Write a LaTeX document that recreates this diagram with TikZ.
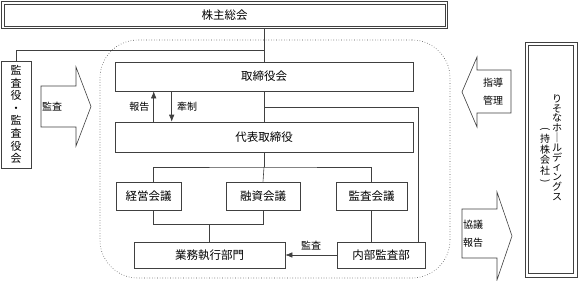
\documentclass[tikz,border=0pt]{standalone}
\usepackage{fontspec}
\setmainfont{Noto Sans CJK JP}
\usetikzlibrary{arrows.meta}
\begin{document}
\begin{tikzpicture}[x=1pt, y=-1pt,
    box/.style={rectangle, draw=black!75, line width=0.6pt, inner sep=0pt, font=\fontsize{11.5}{13}\selectfont},
    region/.style={rectangle, draw=black!70, dotted, line width=0.6pt, rounded corners=38pt},
    vtext/.style={align=center, inner sep=0pt, font=\fontsize{10}{9.8}\selectfont},
    note/.style={inner sep=0pt, font=\fontsize{10}{12}\selectfont},
    line/.style={draw=black!75, line width=0.6pt},
    arrow/.style={line, -{Latex[length=7pt, width=5.5pt]}},
    bigarrow/.style={draw=black!75, line width=0.6pt, fill=white}
]
    \useasboundingbox (0,0) rectangle (579,281);

    % Group companies (dotted area)
    \node[region, minimum width=350pt, minimum height=238pt] (group) at (275,159) {};

    % Shareholders and auditors
    \node[box, minimum width=446pt, minimum height=27pt] (agm) at (224.5,15) {株主総会};
    \draw[line] ([shift={(3pt,-3pt)}]agm.north west) rectangle ([shift={(-3pt,3pt)}]agm.south east);
    \node[box, minimum width=30pt, minimum height=107pt, align=center, font=\fontsize{11}{12.6}\selectfont] (kansa) at (16,114.5) {監\\査\\役\\・\\監\\査\\役\\会};

    % Board and executives
    \node[box, minimum width=298pt, minimum height=29pt] (board) at (264,76.5) {取締役会};
    \node[box, minimum width=298pt, minimum height=30pt] (ceo) at (264,137) {代表取締役};

    % Councils
    \node[box, minimum width=65pt, minimum height=28pt] (mgmt) at (148.5,196) {経営会議};
    \node[box, minimum width=74pt, minimum height=28pt] (loan) at (263,196) {融資会議};
    \node[box, minimum width=71pt, minimum height=28pt] (audit) at (371.5,196) {監査会議};

    % Departments
    \node[box, minimum width=151pt, minimum height=26pt] (ops) at (209.5,255) {業務執行部門};
    \node[box, minimum width=88pt, minimum height=26pt] (iad) at (381,255) {内部監査部};

    % Holding company
    \node[box, minimum width=52pt, minimum height=235pt] (hd) at (551,159.5) {};
    \draw[line] ([shift={(4pt,-4pt)}]hd.north west) rectangle ([shift={(-4pt,4pt)}]hd.south east);
    \node[vtext] (hdname) at (557,147.5) {り\\そ\\な\\ホ\\｜\\ル\\デ\\ィ\\ン\\グ\\ス};
    \node[vtext, font=\fontsize{10}{10.5}\selectfont] (hdsub) at (545,156) {\rotatebox[origin=c]{-90}{(}\\持\\株\\会\\社\\\rotatebox[origin=c]{-90}{)}};

    % Block arrows
    \draw[bigarrow] (41,86) -- (76,86) -- (76,67) -- (91,106.5) -- (76,146) -- (76,127) -- (41,127) -- cycle;
    \node[note] (kansalbl) at (52,106.5) {監査};
    \draw[bigarrow] (511,70) -- (477,70) -- (477,57) -- (462,92) -- (477,127) -- (477,113) -- (511,113) -- cycle;
    \node[note, align=center, font=\fontsize{10}{18}\selectfont] (guidelbl) at (493,92) {指導\\管理};
    \draw[bigarrow] (462,209) -- (497,209) -- (497,192) -- (512,236) -- (497,280) -- (497,258) -- (462,258) -- cycle;
    \node[note, align=center, font=\fontsize{10}{18}\selectfont] (reportlbl) at (473,234) {協議\\報告};

    % Connectors
    \coordinate (tee) at (264,50);
    \draw[line] (agm.south -| board.north) -- (board.north);
    \draw[line] (kansa.north) |- (tee);

    \draw[line] (board.south) -- (ceo.north);
    \draw[arrow] ([xshift=39pt]ceo.north west) -- ([xshift=39pt]board.south west) node[midway, left=4pt, note] {報告};
    \draw[arrow] ([xshift=57pt]board.south west) -- ([xshift=57pt]ceo.north west) node[midway, right=5pt, note] {牽制};
    \coordinate (split) at (264,107);
    \draw[line] (split) -| ([xshift=-7pt]iad.north east);

    \coordinate (bus) at (264,167);
    \draw[line] (ceo.south) -- (bus);
    \draw[line] ([xshift=4.5pt]mgmt.north) |- (bus) -| (audit.north);
    \draw[line] (bus) -- (loan.north);

    \draw[line] ([xshift=4.5pt]mgmt.south) -- ++(0,14) -| (loan.south);
    \draw[line] (ops.north) -- ++(0,-18);
    \draw[line] (audit.south) -- (audit.south |- iad.north);

    \draw[arrow] (iad.west) -- (ops.east) node[midway, above=5pt, note] {監査};
\end{tikzpicture}
\end{document}
